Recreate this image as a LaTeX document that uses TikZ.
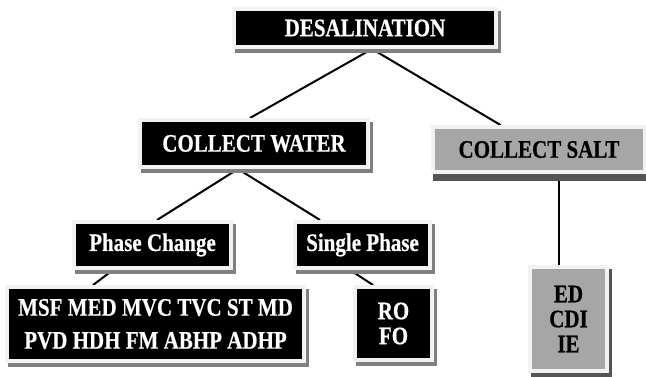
\documentclass[tikz,border=0pt]{standalone}
\usepackage{fontspec}
\setmainfont{Liberation Serif}[BoldFeatures={FakeBold=0.6}]
\usetikzlibrary{backgrounds}
\definecolor{framecol}{HTML}{F2F2F2}
\definecolor{boxgray}{HTML}{A6A6A6}
\definecolor{shadowlight}{HTML}{808080}
\definecolor{shadowdark}{HTML}{555555}
\tikzset{
  box/.style={draw=framecol, line width=4pt, inner sep=0pt, align=center,
    font=\bfseries\fontsize{21}{25}\selectfont},
  shadowA/.style={preaction={fill=shadowlight, draw=shadowlight, line width=4pt,
    transform canvas={xshift=3pt,yshift=-4pt}}},
  blackbox/.style={box, shadowA, fill=black, text=white},
  graybox/.style={box, fill=boxgray, text=black},
  link/.style={line width=2pt, black}
}
\begin{document}
\begin{tikzpicture}[x=1pt,y=-1pt]
\begin{scope}[on background layer]
\fill[white] (0,0) rectangle (646,377);
\end{scope}
\useasboundingbox (0,0) rectangle (646,377);
\node[blackbox, minimum width=262pt, minimum height=38pt] (d) at (365,28) {\scalebox{1}[1.2]{DESALINATION}};
\node[blackbox, minimum width=228pt, minimum height=47pt] (cw) at (254,143.5) {\scalebox{1}[1.2]{COLLECT WATER}};
\node[graybox, minimum width=212pt, minimum height=45pt,
  preaction={fill=shadowdark, draw=shadowdark, line width=4pt, transform canvas={xshift=1.5pt,yshift=-7pt}}]
  (cs) at (539,149.5) {\scalebox{1}[1.2]{COLLECT SALT}};
\node[blackbox, minimum width=157pt, minimum height=46pt] (pc) at (152.5,245) {\scalebox{1}[1.2]{Phase Change}};
\node[blackbox, minimum width=135pt, minimum height=46pt] (sp) at (362.5,245) {\scalebox{1}[1.2]{Single Phase}};
\node[blackbox, minimum width=297pt, minimum height=74pt,
  font=\bfseries\fontsize{21}{33}\selectfont] (msf) at (155.5,324) {\scalebox{1}[1.2]{MSF MED MVC TVC ST MD}\\\scalebox{1}[1.2]{PVD HDH FM ABHP ADHP}};
\node[blackbox, minimum width=77pt, minimum height=73pt] (ro) at (393.5,323.5) {\scalebox{1}[1.2]{RO}\\\scalebox{1}[1.2]{FO}};
\node[graybox, minimum width=77pt, minimum height=104pt,
  preaction={fill=shadowdark, draw=shadowdark, line width=4pt, transform canvas={xshift=3pt,yshift=-4pt}}]
  (ed) at (568.5,319) {\scalebox{1}[1.2]{ED}\\\scalebox{1}[1.2]{CDI}\\\scalebox{1}[1.2]{IE}};
\begin{scope}[on background layer]
\draw[link] ([xshift=7pt]d.south) -- ([xshift=-4pt]cw.north);
\draw[link] ([xshift=7pt]d.south) -- ([xshift=-38.5pt]cs.north);
\draw[link] ([xshift=-16pt]cw.south) -- ([xshift=4.5pt]pc.north);
\draw[link] ([xshift=-16pt]cw.south) -- ([xshift=-42.5pt]sp.north);
\draw[link] ([xshift=-39.5pt]pc.south) -- ([xshift=-62.5pt]msf.north);
\draw[link] ([xshift=-12.5pt]sp.south) -- ([xshift=-20.5pt]ro.north);
\draw[link] ([xshift=20pt]cs.south) -- ([xshift=-9.5pt]ed.north);
\end{scope}
\end{tikzpicture}
\end{document}
